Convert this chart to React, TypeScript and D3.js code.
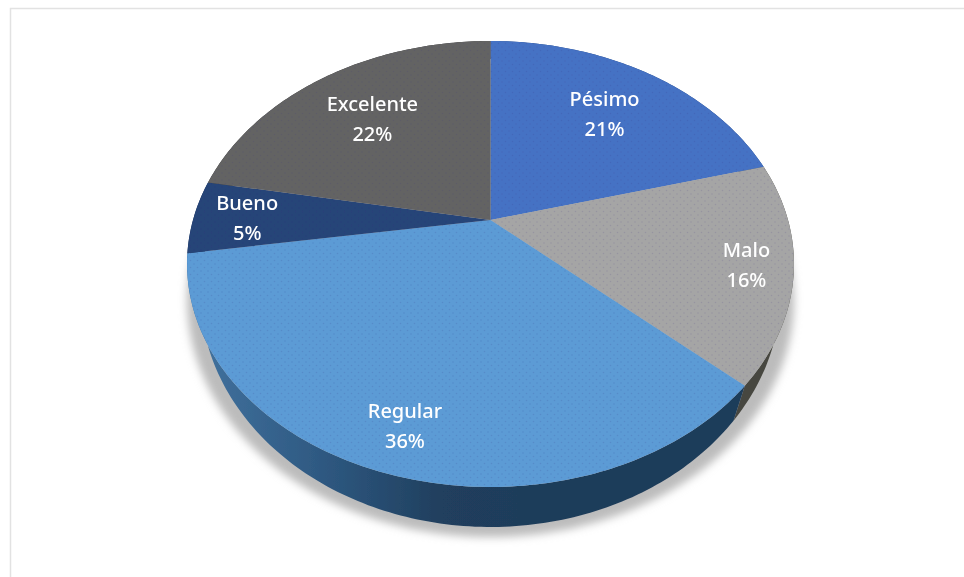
import React from "react";
import * as d3 from "d3";

const categories = ["Pésimo", "Malo", "Regular", "Bueno", "Excelente"];
const shares = [20.8, 15.9, 35.9, 5.3, 22.1];
const topColors = ["#4472c4", "#a5a5a5", "#5b9bd5", "#264478", "#636363"];
const wallColors = ["#2a4a80", "#47473f", "url(#wallRegular)", "#1c3358", "#3c3c3c"];
const labelRadii = [0.7, 0.85, 0.84, 0.82, 0.685];

const W = 964, H = 577;
const cx = 490.5, k = 0.1973;
type Disc = { a: number; b: number; cy: number };
const topDisc: Disc = { a: 297.5, b: 214.3, cy: 220 };
const wallDisc: Disc = { a: 284.3, b: 224.9, cy: 246.8 };
const shadowDisc: Disc = { a: 297.5, b: 227.8, cy: 253.2 };

const project = (disc: Disc, theta: number, r = 1): [number, number] => {
  const u = r * Math.sin(theta), v = -r * Math.cos(theta);
  const w = 1 - k * v;
  return [cx + (disc.a * u) / w, disc.cy + (disc.b * v) / w];
};
const rim = (disc: Disc, t0: number, t1: number) => {
  const n = Math.max(2, Math.ceil(Math.abs(t1 - t0) * 60));
  return d3.range(n + 1).map((i) => project(disc, t0 + ((t1 - t0) * i) / n));
};

const pie = d3.pie<number>().sort(null).value((d) => d);
const arcs = pie(shares);
const line = d3.line();

export default function App() {
  return (
    <svg width={W} height={H} style={{ position: "absolute", left: 0, top: 0, background: "#fff" }}
      fontFamily="'Noto Sans', sans-serif">
      <defs>
        <filter id="shadow" x="-20%" y="-20%" width="140%" height="140%"><feGaussianBlur stdDeviation="4" /></filter>
        <filter id="soft" x="-5%" y="-5%" width="110%" height="110%"><feGaussianBlur stdDeviation="0.5" /></filter>
        <filter id="softText" x="-10%" y="-10%" width="120%" height="120%"><feGaussianBlur stdDeviation="0.35" /></filter>
        <pattern id="dots" width="7" height="7" patternUnits="userSpaceOnUse">
          <circle cx="1.5" cy="1.5" r="0.8" fill="#3a2a80" fillOpacity="0.14" />
          <circle cx="5" cy="5" r="0.8" fill="#3a2a80" fillOpacity="0.14" />
        </pattern>
        <linearGradient id="wallRegular" gradientUnits="userSpaceOnUse" x1="205" x2="520" y1="0" y2="0">
          <stop offset="0" stopColor="#40709c" />
          <stop offset="0.35" stopColor="#2f5a83" />
          <stop offset="0.75" stopColor="#203f5e" />
          <stop offset="1" stopColor="#1f3c5a" />
        </linearGradient>
      </defs>
      <path d="M10.5 577V8.5H964" fill="none" stroke="#e2e2e2" strokeWidth="1.5" />
      <path d={line(rim(shadowDisc, 0, Math.PI * 2)) + "Z"} fill="#bcbcbc" filter="url(#shadow)" />
      <g filter="url(#soft)">
        {arcs.map((d, i) => (
          <path key={"w" + i}
            d={line([...rim(topDisc, d.startAngle, d.endAngle), ...rim(wallDisc, d.endAngle, d.startAngle)]) + "Z"}
            fill={wallColors[i]} />
        ))}
        {arcs.map((d, i) => {
          const path = line([[cx, topDisc.cy], ...rim(topDisc, d.startAngle, d.endAngle)]) + "Z";
          return (
            <g key={"t" + i}>
              <path d={path} fill={topColors[i]} />
              <path d={path} fill="url(#dots)" />
            </g>
          );
        })}
      </g>
      <g filter="url(#softText)">
        {arcs.map((d, i) => {
          const [x, y] = project(topDisc, (d.startAngle + d.endAngle) / 2, labelRadii[i]);
          return (
            <text key={"l" + i} textAnchor="middle" fill="#ffffff" fontSize="20" fontWeight="500">
              <tspan x={x} y={y - 7}>{categories[i]}</tspan>
              <tspan x={x} y={y + 23}>{Math.round(shares[i])}%</tspan>
            </text>
          );
        })}
      </g>
    </svg>
  );
}
